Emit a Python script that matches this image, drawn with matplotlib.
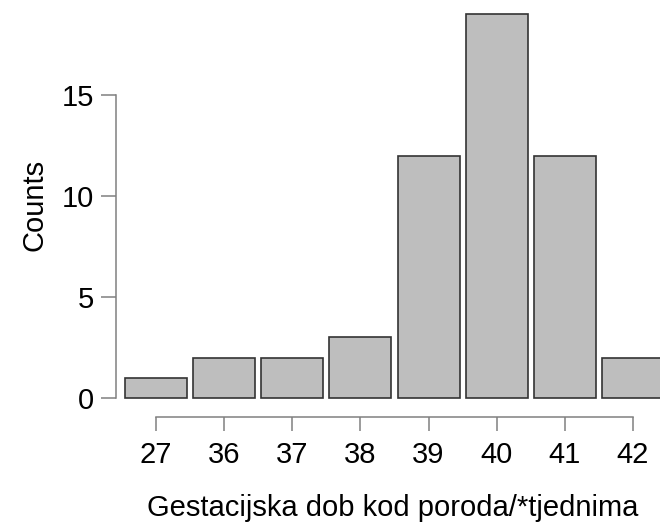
import matplotlib
matplotlib.use("Agg")
import matplotlib.pyplot as plt

# gestational age at delivery (weeks) and number of cases
categories = ["27", "36", "37", "38", "39", "40", "41", "42"]
counts = [1, 2, 2, 3, 12, 19, 12, 2]
y_ticks = [0, 5, 10, 15]

plt.rcParams["font.family"] = ["Liberation Sans", "DejaVu Sans"]

fig = plt.figure(figsize=(6.6, 5.23), dpi=100)
ax = fig.add_axes([116 / 660, 125 / 523, 544 / 660, 398 / 523])

pos = list(range(len(categories)))
ax.bar(pos, counts, width=0.91, color="#bebebe", edgecolor="#333333",
       linewidth=1.2, clip_on=False)

ax.set_xlim(-0.587, 7.397)
ax.set_ylim(0, 19.7)

axis_col = "#808080"
for s in ("top", "right"):
    ax.spines[s].set_visible(False)
ax.spines["left"].set_bounds(0, 15)
ax.spines["bottom"].set_bounds(0, len(categories) - 1)
ax.spines["bottom"].set_position(("outward", 13.7))
for s in ("left", "bottom"):
    ax.spines[s].set_color(axis_col)
    ax.spines[s].set_linewidth(1.1)

ax.set_xticks(pos)
ax.set_xticklabels(categories)
ax.set_yticks(y_ticks)
ax.tick_params(axis="y", length=10.8, width=1.1, color=axis_col, pad=5,
               labelsize=21)
ax.tick_params(axis="x", length=10, width=1.1, color=axis_col, pad=7,
               labelsize=21)

ax.set_xlabel("Gestacijska dob kod poroda/*tjednima", fontsize=21)
ax.xaxis.set_label_coords(0.509, -0.276)
ax.xaxis.label.set_va("center")
ax.set_ylabel("Counts", fontsize=21)
ax.yaxis.set_label_coords(-0.149, 0.485)
ax.yaxis.label.set_va("center")

fig.savefig("out.png", dpi=100)
